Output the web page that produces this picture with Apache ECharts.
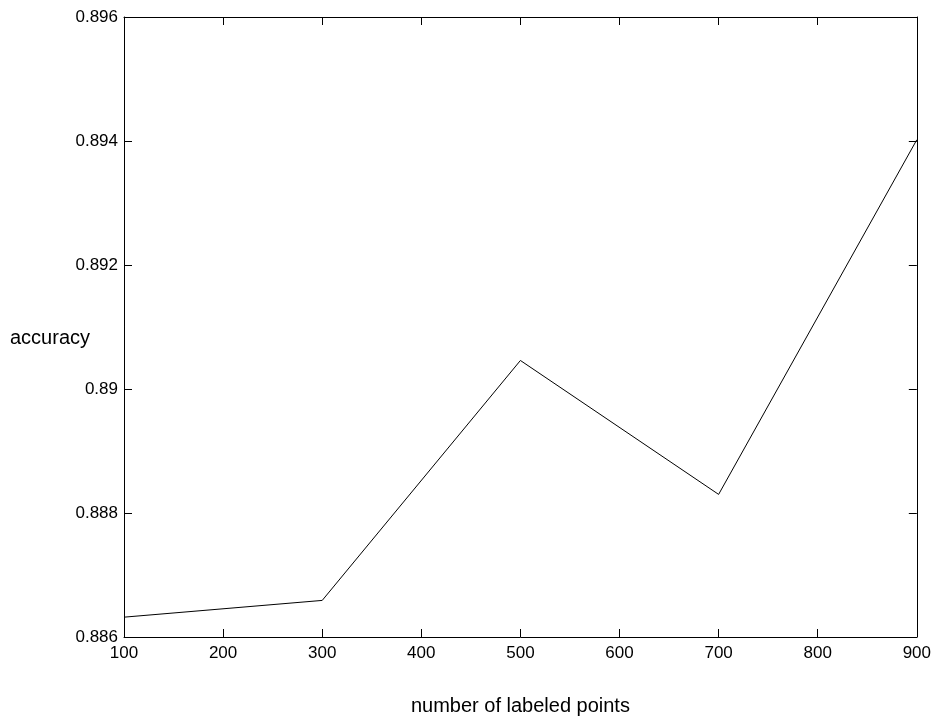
<!DOCTYPE html>
<html>
<head>
<meta charset="utf-8">
<style>
  html, body { margin: 0; padding: 0; background: #fff; }
  #chart { width: 934px; height: 721px; }
</style>
<script src="https://cdn.jsdelivr.net/npm/echarts@6/dist/echarts.min.js"></script>
</head>
<body>
<div id="chart"></div>
<script>
// Number of labeled points used for training
var labeledPoints = [100, 300, 500, 700, 900];
// Classification accuracy at each size
var accuracy = [0.88632, 0.88659, 0.89046, 0.88830, 0.89402];

var xTicks = { min: 100, max: 900, interval: 100 };
var yTicks = { min: 0.886, max: 0.896, interval: 0.002 };

var FONT = 'Liberation Sans, Arial, Helvetica, sans-serif';

function fmtY(v) {
  return String(parseFloat(v.toFixed(3)));
}

var chart = echarts.init(document.getElementById('chart'), null, { renderer: 'canvas' });

var tickStyle = { show: true, inside: true, length: 8, lineStyle: { color: '#000', width: 1 } };
var lineStyle = { show: true, lineStyle: { color: '#000', width: 1 } };

chart.setOption({
  animation: false,
  backgroundColor: '#fff',
  grid: { left: 124, right: 17, top: 17, bottom: 79, containLabel: false },
  xAxis: [
    {
      type: 'value', position: 'bottom',
      min: xTicks.min, max: xTicks.max, interval: xTicks.interval,
      axisLine: lineStyle, axisTick: tickStyle, splitLine: { show: false },
      axisLabel: { color: '#000', fontFamily: FONT, fontSize: 17, margin: 8 },
      name: 'number of labeled points', nameLocation: 'middle', nameGap: 59,
      nameTextStyle: { color: '#000', fontFamily: FONT, fontSize: 20 }
    },
    {
      type: 'value', position: 'top',
      min: xTicks.min, max: xTicks.max, interval: xTicks.interval,
      axisLine: lineStyle, axisTick: tickStyle, splitLine: { show: false },
      axisLabel: { show: false }
    }
  ],
  yAxis: [
    {
      type: 'value', position: 'left',
      min: yTicks.min, max: yTicks.max, interval: yTicks.interval,
      axisLine: lineStyle, axisTick: tickStyle, splitLine: { show: false },
      axisLabel: { color: '#000', fontFamily: FONT, fontSize: 17, margin: 6, formatter: fmtY }
    },
    {
      type: 'value', position: 'right',
      min: yTicks.min, max: yTicks.max, interval: yTicks.interval,
      axisLine: lineStyle, axisTick: tickStyle, splitLine: { show: false },
      axisLabel: { show: false }
    }
  ],
  graphic: [
    {
      type: 'text', left: 10, top: 328,
      style: { text: 'accuracy', fill: '#000', font: '20px ' + FONT }
    }
  ],
  series: [
    {
      type: 'line',
      xAxisIndex: 0, yAxisIndex: 0,
      data: labeledPoints.map(function (x, i) { return [x, accuracy[i]]; }),
      showSymbol: false,
      symbol: 'none',
      lineStyle: { color: '#000', width: 1 },
      itemStyle: { color: '#000' }
    }
  ]
});
</script>
</body>
</html>
